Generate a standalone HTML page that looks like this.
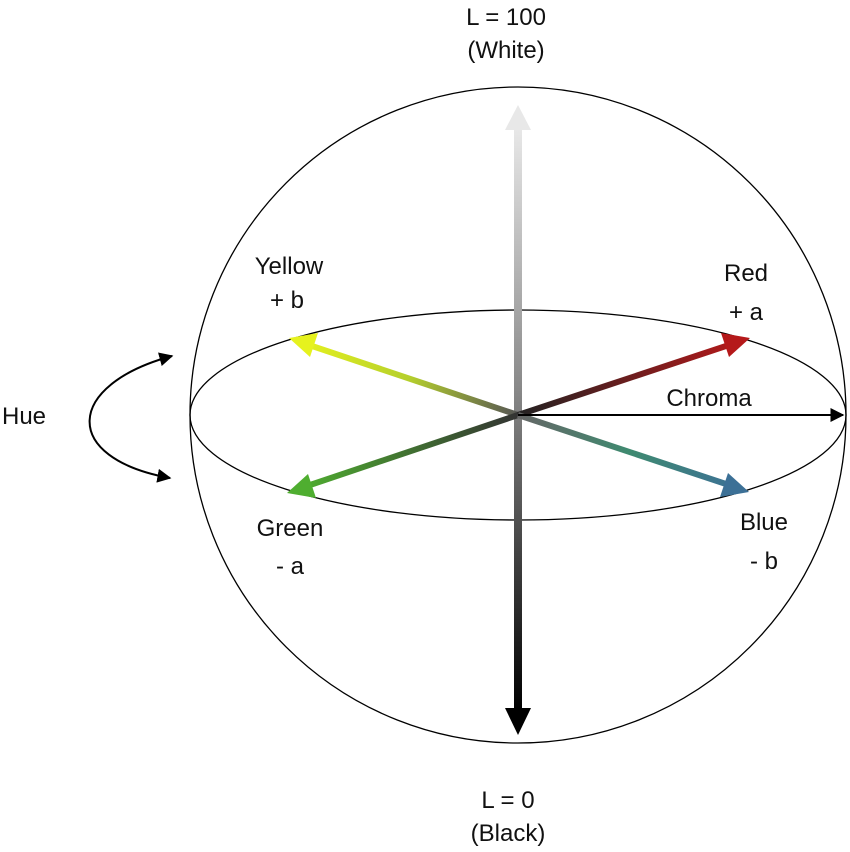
<!DOCTYPE html>
<html><head><meta charset="utf-8"><style>
html,body{margin:0;padding:0;background:#fff;}
svg{display:block;}
text{font-family:"Liberation Sans",sans-serif;font-size:24px;fill:#111;}
</style></head><body>
<svg width="850" height="852" viewBox="0 0 850 852">
<defs>
<linearGradient id="gL" x1="0" y1="0" x2="0" y2="1">
<stop offset="0" stop-color="#e8e8e8"/><stop offset="0.45" stop-color="#888"/><stop offset="1" stop-color="#000"/></linearGradient>
<linearGradient id="gY" gradientUnits="userSpaceOnUse" x1="518" y1="415" x2="300" y2="342">
<stop offset="0" stop-color="#555"/><stop offset="0.5" stop-color="#b5cf2c"/><stop offset="1" stop-color="#e6f21e"/></linearGradient>
<linearGradient id="gR" gradientUnits="userSpaceOnUse" x1="518" y1="415" x2="740" y2="342">
<stop offset="0" stop-color="#222"/><stop offset="1" stop-color="#b5191a"/></linearGradient>
<linearGradient id="gG" gradientUnits="userSpaceOnUse" x1="518" y1="415" x2="300" y2="488">
<stop offset="0" stop-color="#333"/><stop offset="1" stop-color="#4fae30"/></linearGradient>
<linearGradient id="gB" gradientUnits="userSpaceOnUse" x1="518" y1="415" x2="740" y2="488">
<stop offset="0" stop-color="#666"/><stop offset="0.5" stop-color="#3f8a70"/><stop offset="1" stop-color="#3c7096"/></linearGradient>
<marker id="mk" viewBox="0 0 10 10" refX="9" refY="5" markerWidth="7" markerHeight="7" orient="auto-start-reverse"><path d="M0,0L10,5L0,10z" fill="#000"/></marker>
</defs>
<circle cx="518" cy="415" r="328" fill="none" stroke="#000" stroke-width="1.3"/>
<ellipse cx="518" cy="415" rx="328" ry="105" fill="none" stroke="#000" stroke-width="1.3"/>
<g>
<rect x="514" y="128" width="8" height="582" fill="url(#gL)"/>
<polygon points="518,105 505,130 531,130" fill="#e8e8e8"/>
<polygon points="518,735 505,708 531,708" fill="#000"/>
</g>
<g>
<line x1="518" y1="415" x2="312" y2="346" stroke="url(#gY)" stroke-width="6"/>
<polygon points="289,338 318,333 310,357" fill="#e6f21e"/></g>
<g>
<line x1="518" y1="415" x2="726" y2="346" stroke="url(#gR)" stroke-width="6"/>
<polygon points="750,338 721,333 729,357" fill="#b5191a"/></g>
<g>
<line x1="518" y1="415" x2="310" y2="485" stroke="url(#gG)" stroke-width="6"/>
<polygon points="287,493 316,498 308,474" fill="#4fae30"/></g>
<g>
<line x1="518" y1="415" x2="726" y2="484" stroke="url(#gB)" stroke-width="6"/>
<polygon points="749,492 720,497 728,473" fill="#3c7096"/></g>
<line x1="518" y1="415" x2="843" y2="415" stroke="#000" stroke-width="2" marker-end="url(#mk)"/>
<path d="M172,356 C 65,385 60,458 170,478" fill="none" stroke="#000" stroke-width="2" marker-start="url(#mk)" marker-end="url(#mk)"/>
<text x="506" y="25" text-anchor="middle">L = 100</text>
<text x="506" y="58" text-anchor="middle">(White)</text>
<text x="289" y="274" text-anchor="middle">Yellow</text>
<text x="287" y="308" text-anchor="middle">+ b</text>
<text x="746" y="281" text-anchor="middle">Red</text>
<text x="746" y="320" text-anchor="middle">+ a</text>
<text x="709" y="406" text-anchor="middle">Chroma</text>
<text x="2" y="424">Hue</text>
<text x="290" y="536" text-anchor="middle">Green</text>
<text x="290" y="574" text-anchor="middle">- a</text>
<text x="764" y="530" text-anchor="middle">Blue</text>
<text x="764" y="569" text-anchor="middle">- b</text>
<text x="508" y="808" text-anchor="middle">L = 0</text>
<text x="508" y="841" text-anchor="middle">(Black)</text>
</svg>
</body></html>
